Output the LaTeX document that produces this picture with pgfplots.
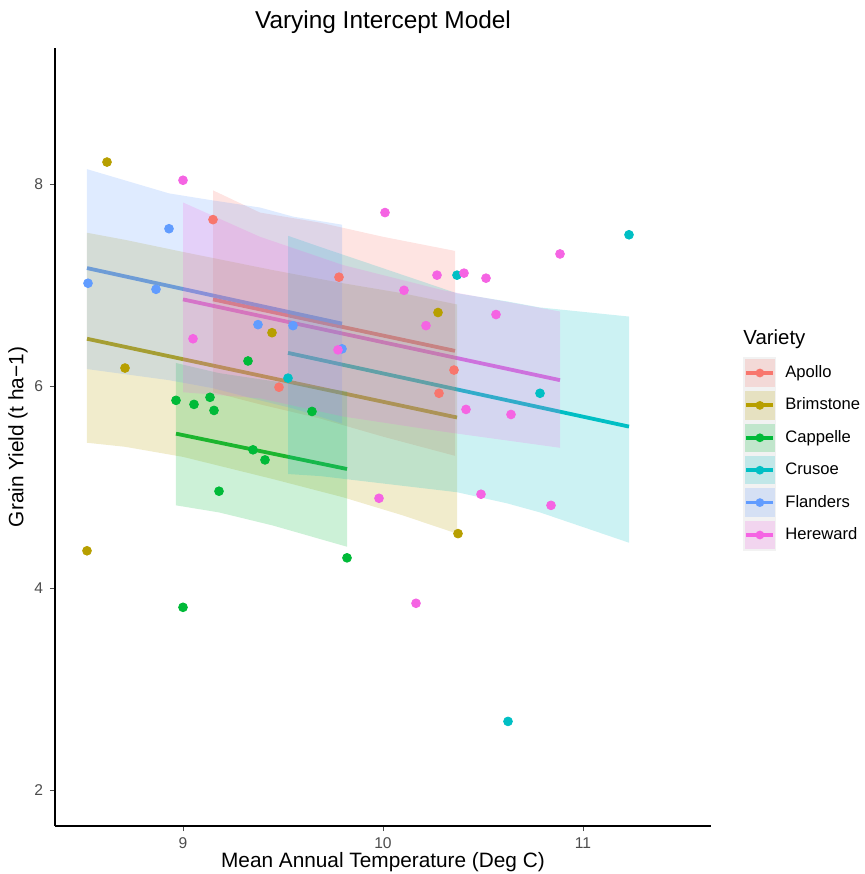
\documentclass[border=0pt]{standalone}
\usepackage{fontspec}
\setmainfont{Liberation Sans}
\usepackage{pgfplots}
\pgfplotsset{compat=1.18}
\definecolor{cA}{HTML}{F8766D}
\definecolor{cB}{HTML}{B79F00}
\definecolor{cC}{HTML}{00BA38}
\definecolor{cD}{HTML}{00BFC4}
\definecolor{cE}{HTML}{619CFF}
\definecolor{cF}{HTML}{F564E3}
\begin{document}
\begin{tikzpicture}
\path[use as bounding box] (-27.5pt,-24pt) rectangle (405pt,413pt);
\begin{axis}[
  name=ax,
  at={(0,0)}, anchor=south west,
  scale only axis, width=328pt, height=389pt,
  xmin=8.36, xmax=11.64, ymin=1.644, ymax=9.35,
  axis lines=left, axis line style={line width=0.7pt, -},
  xtick={9,10,11}, ytick={2,4,6,8},
  tick style={black!70, line width=0.5pt}, major tick length=2.5pt,
  tick align=outside,
  ticklabel style={font=\fontsize{7.8}{9}\selectfont, text=black!70},
  /pgf/number format/assume math mode=true,
  xlabel={Mean Annual Temperature (Deg C)},
  ylabel={Grain Yield (t ha−1)},
  label style={font=\fontsize{10.4}{12}\selectfont},
  xlabel style={at={(axis description cs:0.5,0)}, anchor=center, yshift=-18pt},
  ylabel style={at={(axis description cs:0,0.5)}, anchor=center, yshift=18.5pt},
  legend style={name=leg, at={(axis description cs:1,0.5)}, anchor=west, xshift=16pt, yshift=-8.5pt,
    draw=none, fill=none, inner sep=0pt, row sep=0pt,
    font=\fontsize{8.3}{9.8}\selectfont,
    /tikz/every odd column/.append style={column sep=2.5pt}},
  legend cell align=left,
  legend image code/.code={
    \fill[black!5, draw=none] (0pt,-8.1pt) rectangle (16.5pt,8.1pt);
    \fill[fill opacity=0.2, draw=none] (0.75pt,-7.1pt) rectangle (15.75pt,7.1pt);
    \draw[line width=1.9pt] (1.5pt,0pt) -- (15pt,0pt);
    \fill[draw=none] (8.25pt,0pt) circle (2.2pt);
  },
]
% ---------- points ----------
\pgfplotsset{pts/.style={only marks, mark=*, mark size=2.2pt, forget plot}}
\addplot[pts, color=cA] coordinates {(9.15,7.65) (9.48,5.99) (9.78,7.08) (10.355,6.16) (10.28,5.93)};
\addplot[pts, color=cB] coordinates {(8.62,8.22) (8.71,6.18) (8.52,4.37) (9.445,6.53) (10.275,6.73) (10.375,4.54)};
\addplot[pts, color=cC] coordinates {(8.965,5.86) (9.055,5.82) (9.135,5.89) (9.155,5.76) (9.325,6.25) (9.645,5.75) (9.35,5.37) (9.41,5.27) (9.18,4.96) (9.0,3.81) (9.82,4.30)};
\addplot[pts, color=cD] coordinates {(9.525,6.08) (10.37,7.10) (10.785,5.93) (10.625,2.68) (11.23,7.50)};
\addplot[pts, color=cE] coordinates {(8.525,7.02) (8.93,7.56) (8.865,6.96) (9.375,6.61) (9.55,6.60) (9.795,6.37)};
\addplot[pts, color=cF] coordinates {(9.0,8.04) (9.05,6.47) (10.01,7.72) (10.885,7.31) (10.27,7.10) (10.405,7.12) (10.515,7.07) (10.105,6.95) (10.565,6.71) (10.215,6.60) (9.775,6.36) (10.415,5.77) (10.64,5.72) (9.98,4.89) (10.49,4.93) (10.84,4.82) (10.165,3.85)};
% ---------- fitted lines ----------
\pgfplotsset{fit/.style={no marks, line width=1.9pt, forget plot}}
\addplot[fit, color=cA] coordinates {(9.15,6.86) (10.36,6.35)};
\addplot[fit, color=cB] coordinates {(8.52,6.47) (10.37,5.69)};
\addplot[fit, color=cC] coordinates {(8.965,5.53) (9.82,5.18)};
\addplot[fit, color=cD] coordinates {(9.525,6.33) (11.23,5.60)};
\addplot[fit, color=cE] coordinates {(8.52,7.17) (9.795,6.62)};
\addplot[fit, color=cF] coordinates {(9.0,6.86) (10.885,6.06)};
% ---------- ribbons ----------
\pgfplotsset{rib/.style={draw=none, fill opacity=0.2, no marks, forget plot}}
\addplot[rib, fill=cA] coordinates {(9.15,7.94) (9.385,7.72) (9.685,7.62) (10.0,7.48) (10.36,7.34) (10.36,5.31) (10.0,5.50) (9.685,5.68) (9.385,5.82) (9.15,5.94)} -- cycle;
\addplot[rib, fill=cB] coordinates {(8.52,7.52) (8.71,7.45) (9.0,7.33) (9.45,7.15) (9.8,7.02) (10.1,6.92) (10.37,6.81) (10.37,4.54) (10.1,4.72) (9.8,4.90) (9.45,5.08) (9.0,5.30) (8.71,5.40) (8.52,5.44)} -- cycle;
\addplot[rib, fill=cC] coordinates {(8.965,6.23) (9.18,6.13) (9.45,6.05) (9.82,5.95) (9.82,4.41) (9.45,4.62) (9.18,4.75) (8.965,4.82)} -- cycle;
\addplot[rib, fill=cD] coordinates {(9.525,7.49) (9.685,7.38) (10.37,6.92) (10.62,6.84) (10.785,6.78) (11.23,6.69) (11.23,4.45) (10.785,4.75) (10.62,4.84) (10.37,4.95) (9.685,5.11) (9.525,5.13)} -- cycle;
\addplot[rib, fill=cE] coordinates {(8.52,8.15) (8.93,7.91) (9.15,7.84) (9.385,7.77) (9.55,7.68) (9.795,7.60) (9.795,5.63) (9.55,5.78) (9.385,5.86) (9.15,5.98) (8.93,6.06) (8.52,6.17)} -- cycle;
\addplot[rib, fill=cF] coordinates {(9.0,7.82) (9.385,7.48) (9.8,7.20) (10.3,6.95) (10.885,6.74) (10.885,5.39) (10.3,5.55) (9.8,5.70) (9.385,5.88) (9.0,5.94)} -- cycle;
% ---------- legend ----------
\addlegendimage{color=cA}\addlegendentry{Apollo}
\addlegendimage{color=cB}\addlegendentry{Brimstone}
\addlegendimage{color=cC}\addlegendentry{Cappelle}
\addlegendimage{color=cD}\addlegendentry{Crusoe}
\addlegendimage{color=cE}\addlegendentry{Flanders}
\addlegendimage{color=cF}\addlegendentry{Hereward}
\end{axis}
\node[font=\fontsize{12.2}{14}\selectfont, inner sep=0pt, yshift=13pt] at (ax.north) {Varying Intercept Model};
\node[anchor=base west, font=\fontsize{10.2}{12}\selectfont, inner sep=0pt, yshift=6pt] at (leg.north west) {Variety};
\end{tikzpicture}
\end{document}
